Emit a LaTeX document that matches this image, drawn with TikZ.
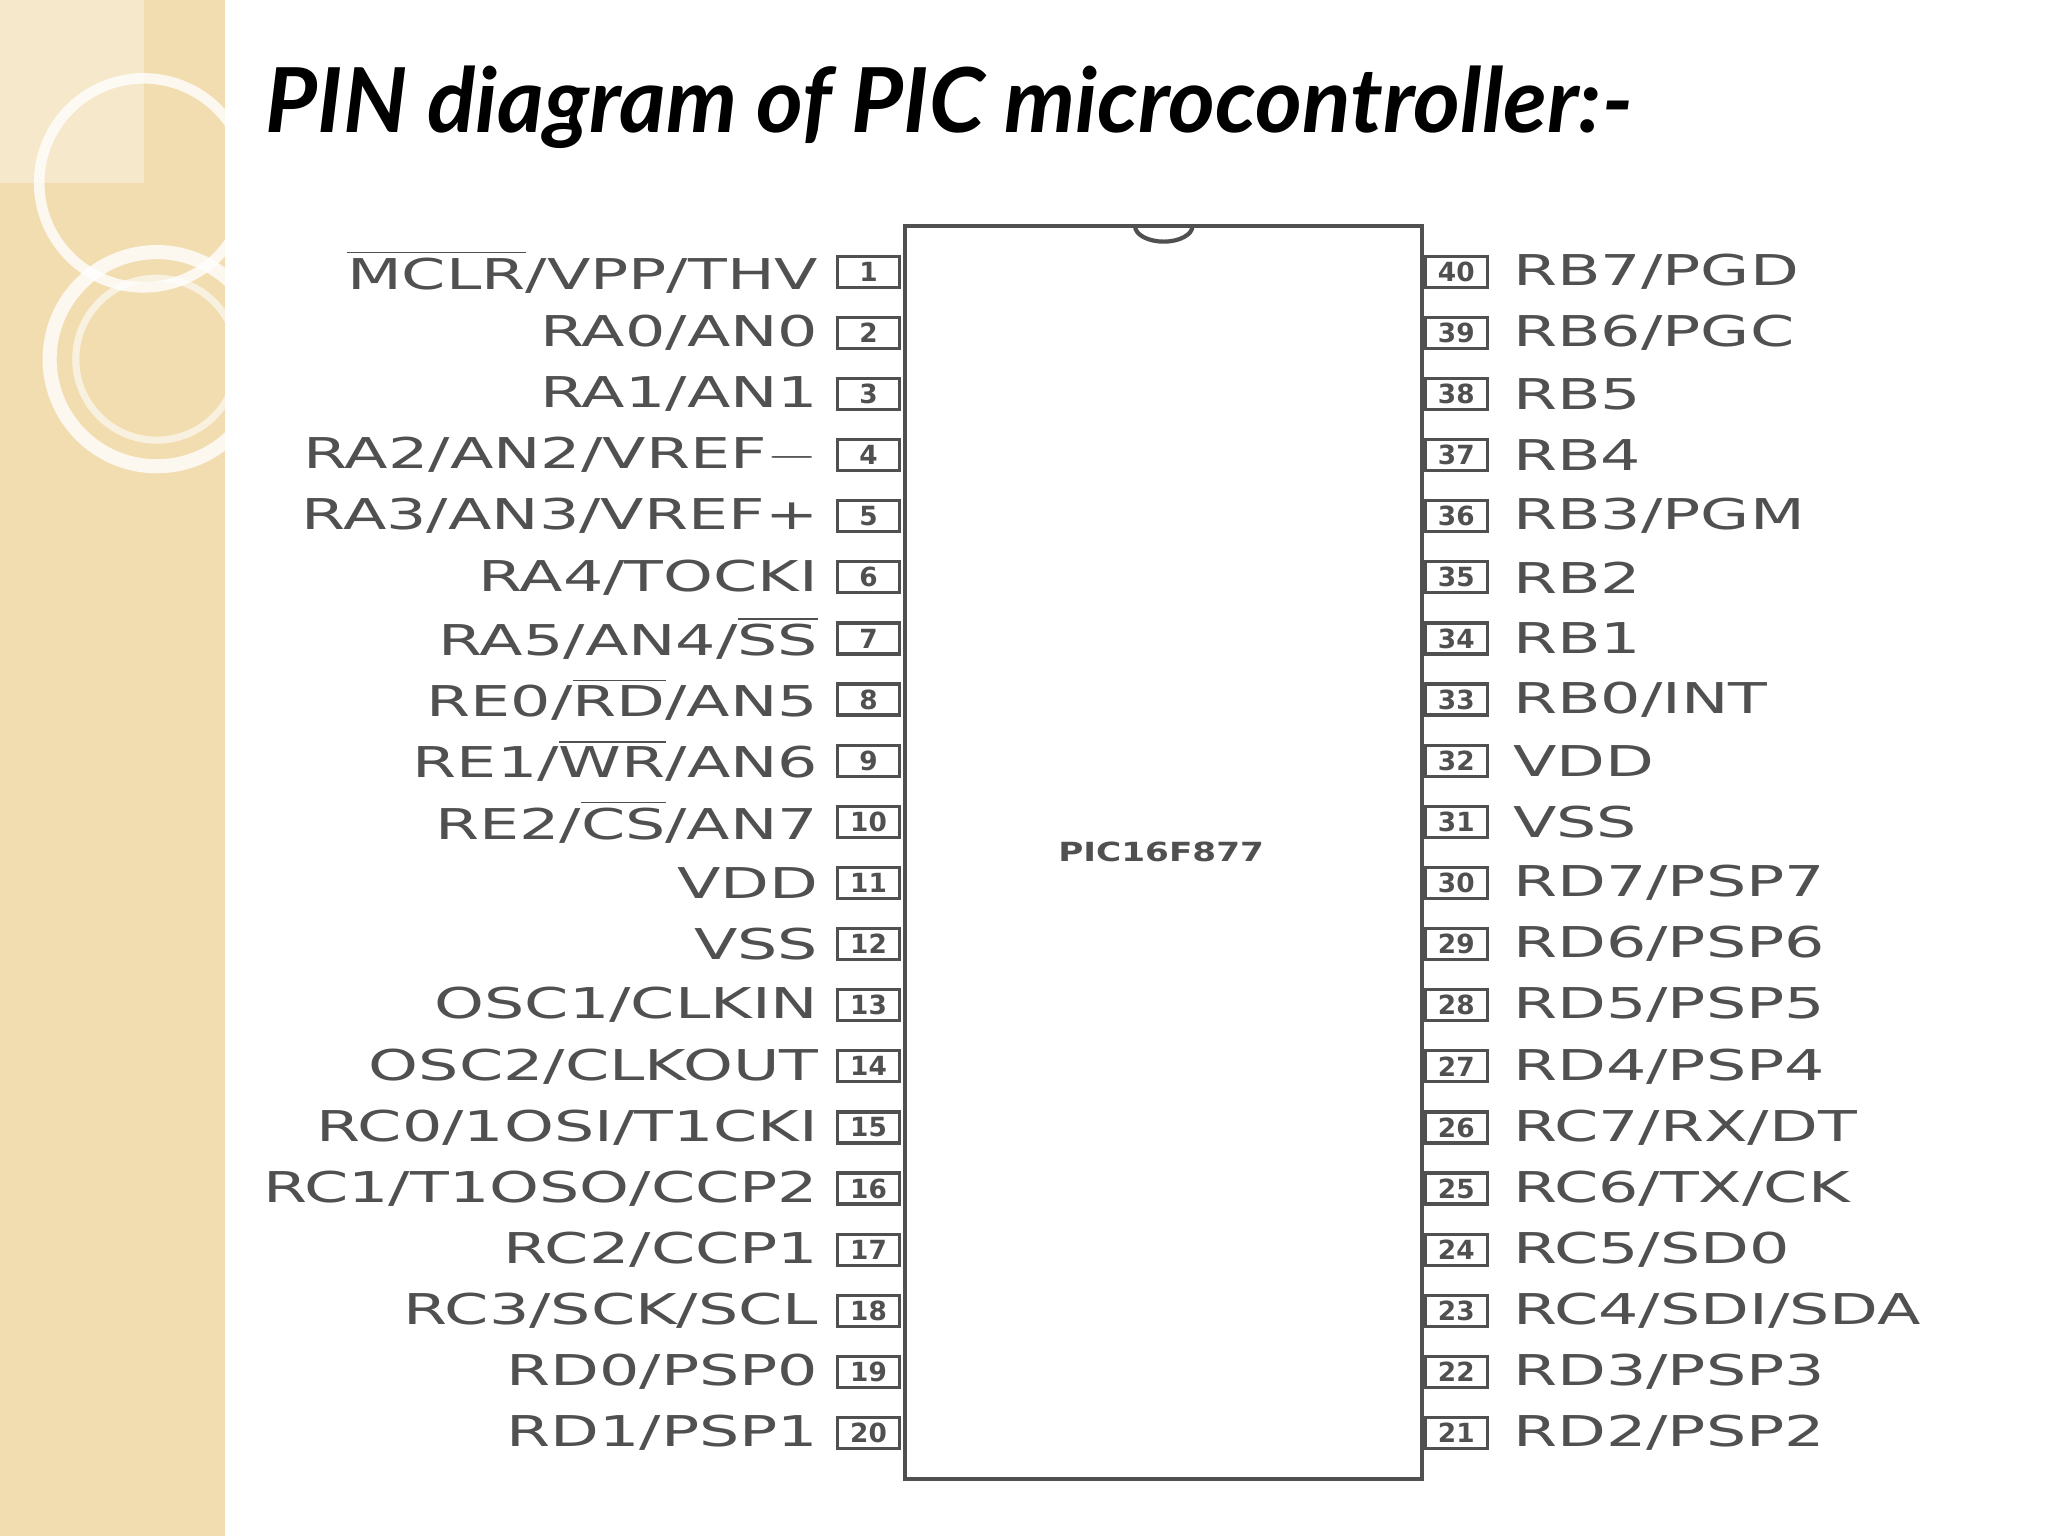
\documentclass[tikz,border=0pt]{standalone}
\usepackage{fontspec}
\setmainfont{DejaVu Sans}
\newfontfamily\titlefont{Lato}
\definecolor{beige}{HTML}{F2DDB0}
\definecolor{txt}{HTML}{505050}
\newcommand{\lbl}[1]{\scalebox{1.57}[1.05]{#1}}
\newcommand{\ovl}[1]{$\overline{\mbox{#1}}$}
\begin{document}
\begin{tikzpicture}[x=0.013061cm,y=-0.013061cm,
  pinbox/.style={draw=txt,line width=0.9pt,minimum width=0.62cm,minimum height=0.31cm,inner sep=0pt,font=\bfseries\fontsize{7.5}{7.5}\selectfont,text=txt},
  llab/.style={anchor=east,text=txt,font=\fontsize{11.5}{12}\selectfont,inner sep=0pt},
  rlab/.style={anchor=west,text=txt,font=\fontsize{11.5}{12}\selectfont,inner sep=0pt}]
\useasboundingbox (0,0) rectangle (1568,1176);
\fill[white] (0,0) rectangle (1568,1176);
\fill[beige] (0,0) rectangle (172,1176);
\fill[white,opacity=0.35] (0,0) rectangle (110,140);
\draw[white,line width=3pt,opacity=0.8] (110,140) circle (80);
\draw[white,line width=4pt,opacity=0.8] (120,275) circle (82);
\draw[white,line width=2pt,opacity=0.6] (120,275) circle (62);
\node[anchor=west,inner sep=0pt,text=black] (title) at (203,82) {\titlefont\bfseries\itshape\fontsize{25.5}{27}\selectfont PIN diagram of PIC microcontroller:-};
\node[draw=txt,line width=1.2pt,minimum width=5.17cm,minimum height=12.53cm,inner sep=0pt] (chip) at (891,652.5) {};
\node[text=txt,font=\bfseries\fontsize{7.5}{8}\selectfont] (name) at (889,652) {\scalebox{1.3}[1]{PIC16F877}};
\draw[txt,line width=1.2pt] (869,173) arc (180:0:22 and 12);
\foreach \n/\t in {1/{\ovl{MCLR}/VPP/THV},2/{RA0/AN0},3/{RA1/AN1},4/{RA2/AN2/VREF$-$},5/{RA3/AN3/VREF+},6/{RA4/TOCKI},7/{RA5/AN4/\ovl{SS}},8/{RE0/\ovl{RD}/AN5},9/{RE1/\ovl{WR}/AN6},10/{RE2/\ovl{CS}/AN7},11/{VDD},12/{VSS},13/{OSC1/CLKIN},14/{OSC2/CLKOUT},15/{RC0/1OSI/T1CKI},16/{RC1/T1OSO/CCP2},17/{RC2/CCP1},18/{RC3/SCK/SCL},19/{RD0/PSP0},20/{RD1/PSP1}}{
  \node[pinbox] (L\n) at (665,{208+(\n-1)*46.8}) {\n};
  \node[llab] (LT\n) at (627,{208+(\n-1)*46.8}) {\lbl{\t}};
}
\foreach \n/\t in {40/{RB7/PGD},39/{RB6/PGC},38/{RB5},37/{RB4},36/{RB3/PGM},35/{RB2},34/{RB1},33/{RB0/INT},32/{VDD},31/{VSS},30/{RD7/PSP7},29/{RD6/PSP6},28/{RD5/PSP5},27/{RD4/PSP4},26/{RC7/RX/DT},25/{RC6/TX/CK},24/{RC5/SD0},23/{RC4/SDI/SDA},22/{RD3/PSP3},21/{RD2/PSP2}}{
  \node[pinbox] (R\n) at (1115,{208+(40-\n)*46.8}) {\n};
  \node[rlab] (RT\n) at (1158,{208+(40-\n)*46.8}) {\lbl{\t}};
}
\end{tikzpicture}
\end{document}
